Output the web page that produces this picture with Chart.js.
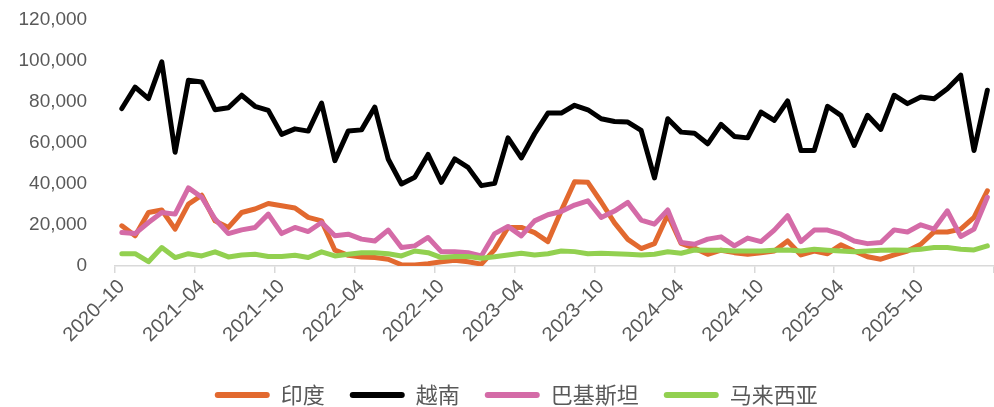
<!DOCTYPE html>
<html>
<head>
<meta charset="utf-8">
<script src="https://cdn.jsdelivr.net/npm/chart.js@4/dist/chart.umd.min.js"></script>
<style>
  html, body { margin: 0; padding: 0; background: #ffffff; }
  #wrap { width: 994px; height: 407px; }
</style>
</head>
<body>
<div id="wrap"><canvas id="c"></canvas></div>
<script>
// Monthly categories, 2020-10 through 2026-03
const startYear = 2020;
const startMonth = 10;
const monthCount = 66;
const months = [];
for (let i = 0; i < monthCount; i++) {
  const m = startMonth - 1 + i;
  const y = startYear + Math.floor(m / 12);
  const mm = (m % 12) + 1;
  months.push(y + '–' + String(mm).padStart(2, '0'));
}

const seriesNames = ['印度', '越南', '巴基斯坦', '马来西亚'];

const india = [
  19600, 14700, 26100, 27300, 18000, 30200, 34500, 22000, 18800, 26100,
  27800, 30500, 29400, 28300, 23700, 22000, 7700, 5200, 4400, 4100,
  3300, 600, 500, 1100, 2100, 2800, 2100, 900, 8000, 18800,
  18800, 16300, 11900, 26900, 41100, 40800, 31200, 21000, 13000, 8500,
  10900, 25000, 11000, 8700, 5700, 7700, 6500, 5700, 6500, 7300,
  12200, 5400, 7300, 6000, 10300, 7300, 4500, 3300, 5400, 7300,
  10600, 16600, 16600, 18000, 23700, 36700
];

const vietnam = [
  76800, 87300, 81600, 99600, 55500, 90600, 89800, 76200, 77200, 83300,
  77900, 75900, 64200, 66900, 65800, 79500, 51400, 65800, 66400, 77500,
  52200, 40000, 43300, 54400, 40800, 52200, 48100, 39200, 40300, 62500,
  52700, 64500, 74600, 74600, 78400, 76200, 71800, 70500, 70200, 66100,
  43000, 71800, 65300, 64800, 59600, 69100, 63200, 62500, 75100, 71000,
  80500, 56300, 56300, 77900, 73500, 58800, 73500, 66600, 83300, 79200,
  82400, 81600, 86500, 93100, 56300, 85700
];

const pakistan = [
  16300, 15800, 21200, 26100, 25300, 38100, 33500, 22900, 15800, 17600,
  18800, 25300, 15800, 18800, 16800, 21200, 14700, 15500, 13100, 12200,
  17500, 9000, 9800, 13900, 6900, 6900, 6500, 4900, 15800, 19300,
  14700, 22000, 25000, 26600, 29700, 31800, 23700, 26800, 31000, 22400,
  20400, 27300, 11400, 10600, 13100, 14200, 9800, 13600, 11900, 17500,
  24500, 11900, 17500, 17500, 15500, 12200, 10900, 11400, 17600, 16600,
  20100, 18000, 26900, 14400, 18000, 33500
];

const malaysia = [
  6000, 6000, 2100, 9000, 4100, 6000, 4900, 6900, 4400, 5400,
  5700, 4600, 4600, 5200, 4100, 6900, 4900, 5700, 6500, 6500,
  6000, 4900, 7300, 6500, 4100, 4600, 4600, 3800, 4500, 5400,
  6200, 5400, 6000, 7300, 7000, 6000, 6200, 6000, 5700, 5400,
  5700, 6900, 6200, 7800, 7700, 7700, 7300, 7300, 7300, 7700,
  7800, 7300, 8200, 7700, 7300, 6900, 7300, 7700, 7800, 7700,
  8200, 9000, 9000, 8200, 7800, 9800
];

const yTickMax = 120000;
const yTickStep = 20000;
const labelEvery = 6;

const colors = ['#E2692F', '#000000', '#D46BA7', '#92D050'];
const values = [india, vietnam, pakistan, malaysia];

const axisGray = '#D9D9D9';
const textGray = '#595959';
const tickFontFamily = '"Liberation Sans", Arial, sans-serif';

const datasets = seriesNames.map((name, i) => ({
  label: name,
  data: values[i],
  borderColor: colors[i],
  backgroundColor: colors[i],
  borderWidth: 5,
  pointRadius: 0,
  pointHoverRadius: 0,
  tension: 0,
  borderJoinStyle: 'round',
  borderCapStyle: 'round',
  fill: false,
  // later series are painted above earlier ones
  order: seriesNames.length - i
}));

new Chart(document.getElementById('c'), {
  type: 'line',
  data: { labels: months, datasets },
  options: {
    responsive: true,
    maintainAspectRatio: false,
    animation: false,
    // the negative right padding only widens the legend band, nudging the legend to the right
    layout: { padding: { left: 18.5, right: -20, top: 20, bottom: -9 } },
    plugins: {
      tooltip: { enabled: false },
      legend: {
        position: 'bottom',
        labels: {
          boxWidth: 55,
          boxHeight: 6,
          useBorderRadius: true,
          borderRadius: 3,
          padding: 25,
          color: textGray,
          font: { family: '"Noto Sans CJK SC", sans-serif', size: 22 },
          sort: (a, b) => a.datasetIndex - b.datasetIndex,
          generateLabels: chart =>
            Chart.defaults.plugins.legend.labels.generateLabels(chart)
              .map(l => Object.assign(l, { lineWidth: 0 }))
        }
      }
    },
    scales: {
      x: {
        offset: true,
        grid: {
          offset: true,
          drawOnChartArea: false,
          drawTicks: true,
          tickLength: 7,
          lineWidth: 1.5,
          color: ctx => (ctx.type !== 'tick' || ctx.index % labelEvery === 0) ? axisGray : 'rgba(0,0,0,0)'
        },
        border: { display: true, color: axisGray, width: 1.5 },
        ticks: {
          autoSkip: false,
          minRotation: 45,
          maxRotation: 45,
          padding: 2,
          color: textGray,
          font: { family: tickFontFamily, size: 20 },
          callback: function (v, i) { return i % labelEvery === 0 ? months[i] : ''; }
        },
        afterFit: scale => {
          // room between the slanted labels and the legend; plot runs to the right edge
          scale.height += 10;
          scale.paddingLeft = 0;
          scale.paddingRight = 0;
        }
      },
      y: {
        min: 0,
        max: yTickMax,
        grid: {
          display: true,
          drawOnChartArea: false,
          drawTicks: true,
          tickLength: 28,
          color: 'rgba(0,0,0,0)'
        },
        border: { display: false },
        ticks: {
          stepSize: yTickStep,
          padding: 0,
          color: textGray,
          font: { family: tickFontFamily, size: 19 },
          callback: v => v.toLocaleString('en-US')
        }
      }
    }
  }
});
</script>
</body>
</html>
